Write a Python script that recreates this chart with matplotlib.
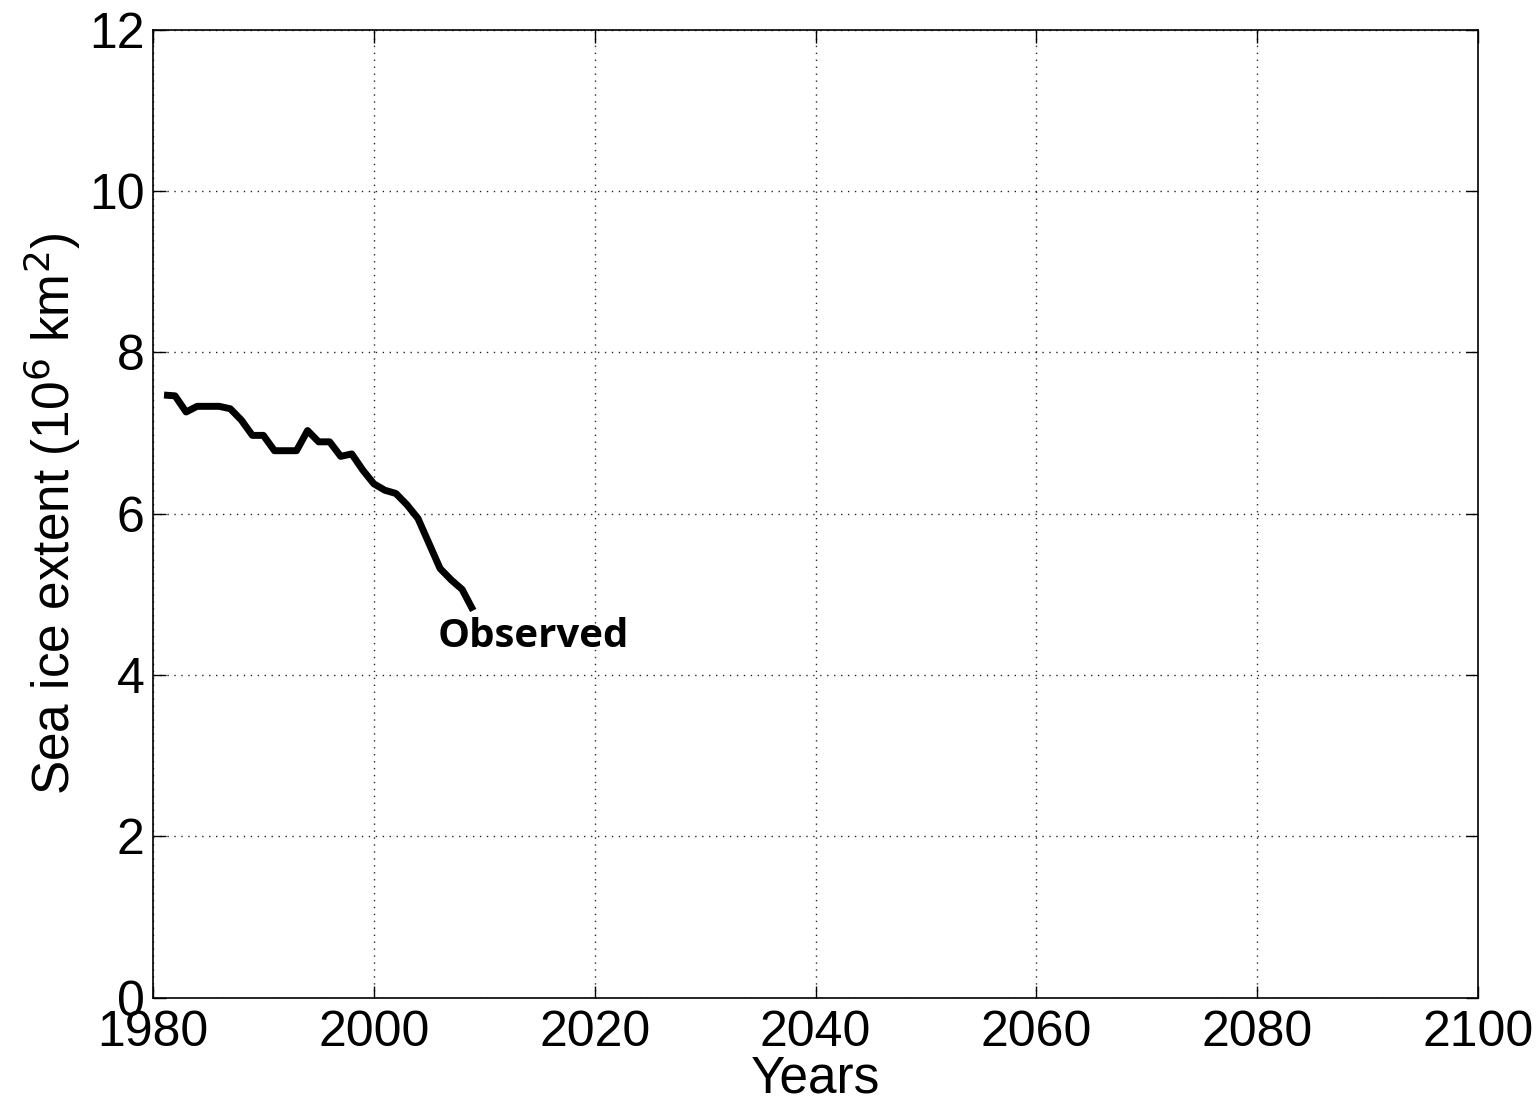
import matplotlib
matplotlib.use("Agg")
import matplotlib.pyplot as plt

years = list(range(1981, 2010))
extent = [7.47, 7.46, 7.26, 7.33, 7.33, 7.33, 7.30, 7.16, 6.97, 6.97,
          6.78, 6.78, 6.78, 7.03, 6.89, 6.89, 6.71, 6.74, 6.54, 6.37,
          6.29, 6.25, 6.11, 5.94, 5.63, 5.32, 5.18, 5.06, 4.80]
xticks = [1980, 2000, 2020, 2040, 2060, 2080, 2100]
yticks = [0, 2, 4, 6, 8, 10, 12]

plt.rcParams['font.family'] = ['Liberation Sans', 'DejaVu Sans']

fig = plt.figure(figsize=(15.39, 11.02), dpi=100)
ax = fig.add_axes([0.0994, 0.0946, 0.8610, 0.8786])

ax.plot(years, extent, color='black', linewidth=5.0, solid_capstyle='butt')
ax.set_xlim(1980, 2100)
ax.set_ylim(0, 12)
ax.set_xticks(xticks)
ax.set_yticks(yticks)
ax.grid(True, linestyle=(0, (1, 4)), color='black', linewidth=1.0, alpha=0.85)
ax.tick_params(direction='in', length=9, width=1, top=True, right=True,
               labelsize=36)
ax.tick_params(axis='y', pad=6)
ax.tick_params(axis='x', pad=9)
for s in ax.spines.values():
    s.set_linewidth(1.2)

ax.set_xlabel('Years', fontsize=37, labelpad=-1)
ax.set_ylabel('Sea ice extent (10$^6$ km$^2$)', fontsize=37, labelpad=4)

ax.text(2005.75, 4.48, 'Observed', fontsize=29, fontweight='bold',
        family=['Open Sans', 'DejaVu Sans'], va='center', ha='left')

fig.savefig('out.png', dpi=100)
